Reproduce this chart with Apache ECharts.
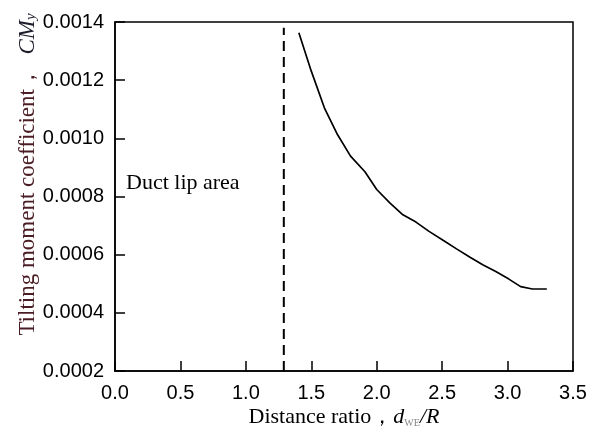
<!DOCTYPE html>
<html>
<head>
<meta charset="utf-8">
<script src="https://cdn.jsdelivr.net/npm/echarts@6/dist/echarts.min.js"></script>
<style>
html,body{margin:0;padding:0;background:#fff;}
#chart{width:589px;height:427px;}
</style>
</head>
<body>
<div id="chart"></div>
<script>
// Data
const distanceRatio = [1.405, 1.50, 1.60, 1.70, 1.80, 1.91, 2.00, 2.10, 2.20, 2.30, 2.40, 2.51, 2.61, 2.71, 2.81, 2.91, 3.01, 3.10, 3.19, 3.30];
const tiltingCoeff = [0.001363, 0.001231, 0.001105, 0.001013, 0.000939, 0.000885, 0.000824, 0.000778, 0.000737, 0.000712, 0.000680, 0.000649, 0.000620, 0.000592, 0.000565, 0.000542, 0.000516, 0.000490, 0.000482, 0.000482];
const lipBoundaryX = [1.29, 1.29];
const lipBoundaryY = [0.0002, 0.00138];
const annotationText = 'Duct lip area';
const xTitle = 'Distance ratio，';
const yTitle = 'Tilting moment coefficient，  ';

const chart = echarts.init(document.getElementById('chart'), null, {renderer: 'canvas'});
const serif = '"Liberation Serif", "Times New Roman", serif';
const sans = '"Liberation Sans", Arial, sans-serif';

const curve = distanceRatio.map((x, i) => [x, tiltingCoeff[i]]);
const lip = lipBoundaryX.map((x, i) => [x, lipBoundaryY[i]]);

chart.setOption({
  animation: false,
  backgroundColor: '#fff',
  grid: {left: 115, top: 22, width: 458, height: 349, containLabel: false, outerBoundsMode: 'none',
         show: true, borderColor: '#000', borderWidth: 1.5, backgroundColor: 'transparent'},
  xAxis: {
    type: 'value', min: 0, max: 3.5, interval: 0.5,
    axisLine: {show: true, onZero: false, lineStyle: {color: '#000', width: 1.5}},
    axisTick: {show: true, inside: true, length: 10, lineStyle: {color: '#000', width: 1.5}},
    splitLine: {show: false},
    axisLabel: {color: '#000', fontFamily: sans, fontSize: 20, margin: 12, formatter: v => v.toFixed(1)},
    name: xTitle + '{i|d}{sub|WE}{i|/R}',
    nameLocation: 'middle', nameGap: 35, nameMoveOverlap: false,
    nameTextStyle: {
      color: '#000', fontFamily: serif, fontSize: 22,
      rich: {
        i: {fontFamily: serif, fontStyle: 'italic', fontSize: 22, color: '#000'},
        sub: {fontFamily: serif, fontSize: 10, color: '#888', verticalAlign: 'bottom', padding: [8, 0, 0, 0]}
      }
    }
  },
  yAxis: {
    type: 'value', min: 0.0002, max: 0.0014, interval: 0.0002,
    axisLine: {show: true, onZero: false, lineStyle: {color: '#000', width: 1.5}},
    axisTick: {show: true, inside: true, length: 10, lineStyle: {color: '#000', width: 1.5}},
    splitLine: {show: false},
    axisLabel: {color: '#000', fontFamily: sans, fontSize: 20, margin: 11, formatter: v => v.toFixed(4)},
    name: yTitle + '{i|CM}{sub|y}',
    nameLocation: 'middle', nameRotate: 90, nameGap: 76, nameMoveOverlap: false,
    nameTextStyle: {
      color: '#4a1c24', fontFamily: serif, fontSize: 23, padding: [0, 0, 0, 44],
      rich: {
        i: {fontFamily: serif, fontStyle: 'italic', fontSize: 23, color: '#1c1c2a'},
        sub: {fontFamily: serif, fontStyle: 'italic', fontSize: 15, color: '#1c1c2a', verticalAlign: 'bottom', padding: [6, 0, 0, 0]}
      }
    }
  },
  graphic: [{
    type: 'text', left: 126, top: 172,
    style: {text: annotationText, font: '22px ' + serif, fill: '#000'}
  }],
  series: [
    {type: 'line', data: curve, showSymbol: false, smooth: false, lineStyle: {color: '#000', width: 1.7}},
    {type: 'line', data: lip, showSymbol: false, lineStyle: {color: '#000', width: 2, type: [10, 6]}}
  ]
});
</script>
</body>
</html>
